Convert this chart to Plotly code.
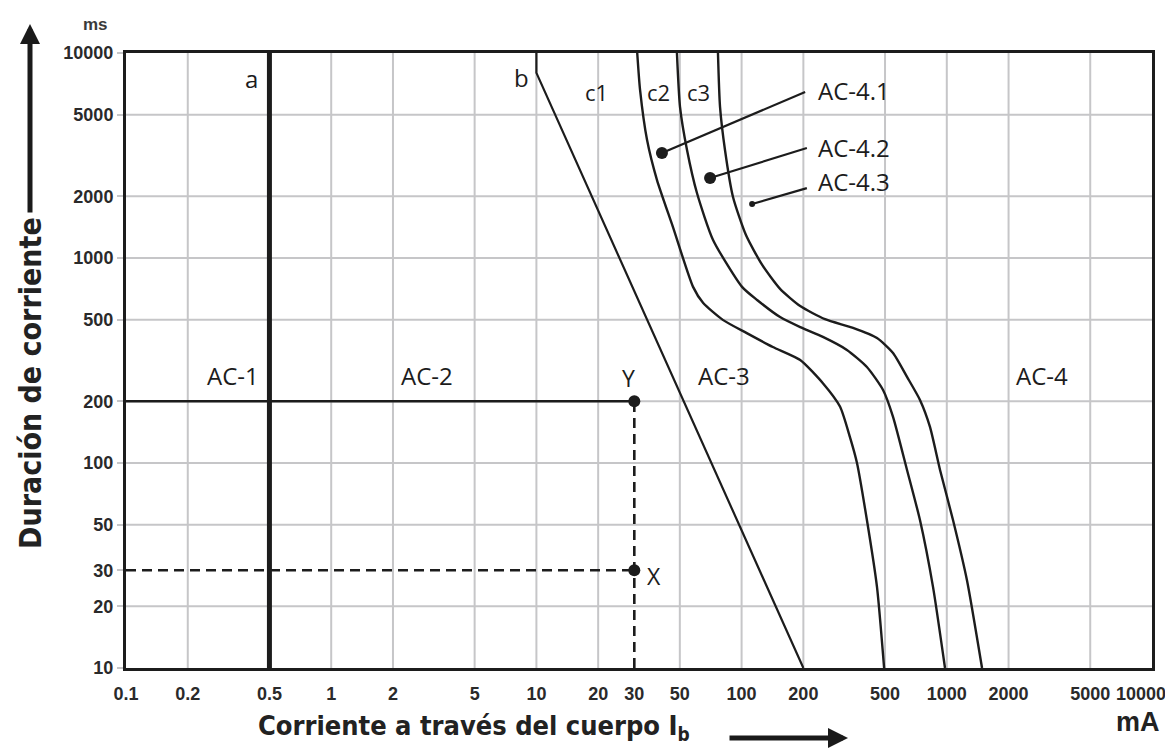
import plotly.graph_objects as go

# ---------------- data ----------------
X_TICKS = [0.1, 0.2, 0.5, 1, 2, 5, 10, 20, 30, 50, 100, 200, 500, 1000, 2000, 5000]
X_TICK_TEXT = ["0.1", "0.2", "0.5", "1", "2", "5", "10", "20", "30", "50", "100", "200",
               "500", "1000", "2000", "5000"]
X_LAST_TICK = "10000"        # drawn separately: it sits at the right page edge
Y_TICKS = [10, 20, 30, 50, 100, 200, 500, 1000, 2000, 5000, 10000]
Y_TICK_TEXT = ["10", "20", "30", "50", "100", "200", "500", "1000", "2000", "5000", "10000"]
GRID_X = [0.2, 0.5, 1, 2, 5, 10, 20, 50, 100, 200, 500, 1000, 2000, 5000]
GRID_Y = [20, 50, 100, 200, 500, 1000, 2000, 5000]

A_X = [0.5, 0.5]
A_Y = [10, 10000]

B_X = [10, 10, 200]
B_Y = [10000, 8000, 10]

C1_X = [31, 32, 34.6, 38.7, 46.3, 58, 65, 81, 106, 142, 193, 249, 302, 337, 365, 408, 457, 495]
C1_Y = [10000, 6600, 3770, 2400, 1415, 723, 603, 499, 430, 368, 318, 245, 188, 134, 100, 52.7, 24.8, 10]

C2_X = [48.4, 50.1, 54.2, 60.6, 72.6, 100.5, 119, 154, 193, 249, 326, 408, 489, 547, 640, 740, 857, 980]
C2_Y = [10000, 5460, 3365, 2075, 1225, 723, 624, 515, 460, 412, 356, 294, 227, 168, 92.5, 52.7, 24.8, 10]

C3_X = [76.7, 78.5, 83, 90.8, 105, 126, 154, 193, 255, 349, 457, 547, 640, 740, 828, 927, 1072, 1254, 1485]
C3_Y = [10000, 5460, 3365, 1985, 1294, 925, 707, 583, 503, 456, 407, 344, 263, 203, 150, 92.5, 52.7, 26.8, 10]

# example point: Y (30 mA, 200 ms), X (30 mA, 30 ms)
PT_Y = (30, 200)
PT_X = (30, 30)
X_MIN = 0.1
Y_MIN = 10

# leader lines for AC-4.x labels
L41_X = [204, 40.9]
L41_Y = [6460, 3250]
L42_X = [208, 70.2]
L42_Y = [3440, 2455]
L43_X = [208, 112.5]
L43_Y = [2193, 1833]

# ---------------- figure ----------------
OFF = 8                      # page body margin
W, H = 1173 - OFF, 751 - OFF
ML, MT = 126 - OFF, 53 - OFF
PW, PH = 1026, 615
MR, MB = W - ML - PW, H - MT - PH


def px(x):
    # reference-picture pixel -> paper fraction
    return (x - 126) / PW


def py(y):
    return (668 - y) / PH


INK = "#1c1c1c"
GRID = "#c6c6c8"
LABEL_FONT = "Open Sans, Lato, DejaVu Sans, sans-serif"
AXIS_FONT = "Liberation Sans, Arial, sans-serif"
NARROW = "Liberation Sans Narrow, Arial Narrow, DejaVu Sans Condensed, Liberation Sans, sans-serif"

fig = go.Figure()


def line(x, y, width=2.4, dash=None, shape="linear"):
    fig.add_trace(go.Scatter(
        x=x, y=y, mode="lines",
        line=dict(color=INK, width=width, dash=dash, shape=shape, smoothing=0.6),
        hoverinfo="skip", showlegend=False, cliponaxis=False))


def dots(x, y, size):
    fig.add_trace(go.Scatter(
        x=x, y=y, mode="markers",
        marker=dict(color=INK, size=size, line=dict(width=0)),
        hoverinfo="skip", showlegend=False, cliponaxis=False))


line(A_X, A_Y, width=5)
line(B_X, B_Y, width=2.2)
line(C1_X, C1_Y, width=2.4, shape="spline")
line(C2_X, C2_Y, width=2.4, shape="spline")
line(C3_X, C3_Y, width=2.4, shape="spline")

line([X_MIN, PT_Y[0]], [PT_Y[1], PT_Y[1]], width=2.6)
line([X_MIN, PT_X[0]], [PT_X[1], PT_X[1]], width=2.6, dash="10px,6px")
line([PT_Y[0], PT_Y[0]], [Y_MIN, PT_Y[1]], width=2.6, dash="10px,6px")

line(L41_X, L41_Y, width=2.2)
line(L42_X, L42_Y, width=2.2)
line(L43_X, L43_Y, width=2.2)

dots([PT_Y[0], PT_X[0], L41_X[1], L42_X[1]], [PT_Y[1], PT_X[1], L41_Y[1], L42_Y[1]], 12)
dots([L43_X[1]], [L43_Y[1]], 6)

shapes = []
for v in GRID_X:
    shapes.append(dict(type="line", xref="x", yref="y domain", x0=v, x1=v, y0=0, y1=1,
                       line=dict(color=GRID, width=2), layer="below"))
for v in GRID_Y:
    shapes.append(dict(type="line", xref="x domain", yref="y", x0=0, x1=1, y0=v, y1=v,
                       line=dict(color=GRID, width=2), layer="below"))

ann = []


def label(text, x, y, size=24, xanchor="center", font=LABEL_FONT, color=INK, weight="normal", angle=0):
    ann.append(dict(text=text, x=px(x), y=py(y), xref="paper", yref="paper",
                    xanchor=xanchor, yanchor="middle", showarrow=False, textangle=angle,
                    font=dict(family=font, size=size, color=color, weight=weight)))


label("a", 251, 79)
label("b", 521, 77)
label("c1", 596, 92, size=22)
label("c2", 658, 92, size=22)
label("c3", 698, 92, size=22)
label("AC-4.1", 816, 90, xanchor="left")
label("AC-4.2", 816, 148, xanchor="left")
label("AC-4.3", 816, 181, xanchor="left")
label("AC-1", 233, 376)
label("AC-2", 427, 376)
label("AC-3", 724, 376)
label("AC-4", 1042, 376)
label("Y", 628, 378, size=23)
label("X", 654, 576, size=23)

label(X_LAST_TICK, 1141, 694, size=18, font=AXIS_FONT, color="#2a2a2a", weight="bold")
label("ms", 95, 24, size=17, font=AXIS_FONT, color="#3a3a3a", weight="bold")
label("mA", 1138, 722, size=27, font=AXIS_FONT, color="#222", weight="bold")
label("Duración de corriente", 30, 383, size=30, font=NARROW, color="#222", weight="bold", angle=-90)
label("Corriente a través del cuerpo I<sub>b</sub>", 256, 727, size=27, font=NARROW,
      color="#222", weight="bold", xanchor="left")

# axis title arrows
ann.append(dict(text="", x=px(848), y=py(738), xref="paper", yref="paper",
                ax=728 - 848, ay=0, axref="pixel", ayref="pixel", showarrow=True,
                arrowhead=2, arrowsize=0.8, arrowwidth=5, arrowcolor="#1a1a1a"))
ann.append(dict(text="", x=px(30), y=py(24), xref="paper", yref="paper",
                ax=0, ay=214 - 24, axref="pixel", ayref="pixel", showarrow=True,
                arrowhead=2, arrowsize=0.8, arrowwidth=5, arrowcolor="#1a1a1a"))

fig.update_layout(
    width=W, height=H,
    margin=dict(l=ML, r=MR, t=MT, b=MB, pad=0),
    paper_bgcolor="white", plot_bgcolor="white",
    shapes=shapes, annotations=ann, showlegend=False,
    xaxis=dict(type="log", range=[-1, 4], tickmode="array", tickvals=X_TICKS, ticktext=X_TICK_TEXT,
               showgrid=False, zeroline=False, showline=True, linecolor=INK, linewidth=3, mirror=True,
               ticks="outside", ticklen=7, tickcolor="rgba(0,0,0,0)", automargin=False,
               tickfont=dict(family=AXIS_FONT, size=18, color="#2a2a2a", weight="bold")),
    yaxis=dict(type="log", range=[1, 4], tickmode="array", tickvals=Y_TICKS, ticktext=Y_TICK_TEXT,
               showgrid=False, zeroline=False, showline=True, linecolor=INK, linewidth=3, mirror=True,
               ticks="outside", ticklen=6, tickwidth=2, tickcolor=GRID, automargin=False,
               tickfont=dict(family=AXIS_FONT, size=18, color="#2a2a2a", weight="bold")),
)

fig.write_html("out.html")
